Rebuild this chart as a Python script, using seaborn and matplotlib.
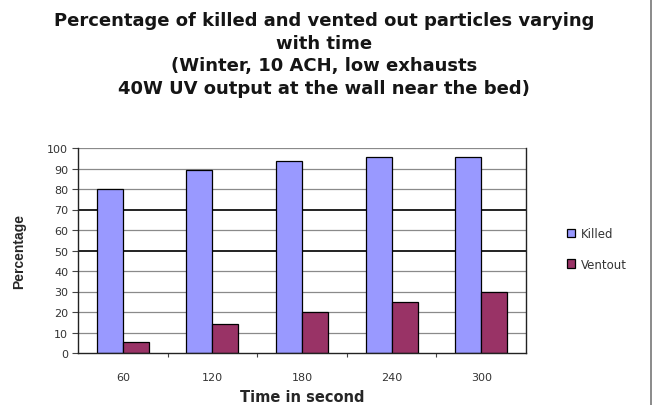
import matplotlib
matplotlib.use("Agg")
import matplotlib.pyplot as plt
from matplotlib.lines import Line2D
import seaborn as sns
import pandas as pd

times = ["60", "120", "180", "240", "300"]
killed = [80, 89.5, 93.5, 95.5, 95.5]
ventout = [5.5, 14, 20, 25, 30]
series_names = ["Killed", "Ventout"]
colors = ["#9999FF", "#993366"]

df = pd.DataFrame({
    "time": times * 2,
    "value": killed + ventout,
    "series": [series_names[0]] * len(times) + [series_names[1]] * len(times),
})

sns.set_style("white")
plt.rcParams["font.family"] = ["DejaVu Sans"]

fig = plt.figure(figsize=(6.54, 4.06), dpi=100)
ax = fig.add_axes([78 / 654, 1 - 354 / 406, (526 - 78) / 654, (354 - 149) / 406])

sns.barplot(data=df, x="time", y="value", hue="series", order=times,
            hue_order=series_names, palette=colors, saturation=1, width=0.58,
            gap=0, edgecolor="black", linewidth=0.9, ax=ax, legend=True)

ax.set_ylim(0, 100)
ax.set_yticks(range(0, 101, 10))
for v in range(10, 101, 10):
    dark = v in (50, 70)
    ax.axhline(v, color="#111111" if dark else "#8a8a8a",
               lw=1.3 if dark else 0.9, zorder=0)

for s in ["left", "bottom", "right"]:
    ax.spines[s].set_visible(True)
    ax.spines[s].set_color("#222222")
    ax.spines[s].set_linewidth(1.0)
ax.spines["top"].set_visible(False)

ax.set_xlim(-0.5, len(times) - 0.5)
ax.set_xticks([i + 0.5 for i in range(len(times) - 1)], minor=True)
ax.tick_params(axis="y", left=True, length=4, width=0.8, color="#444444",
               labelsize=8, labelcolor="#333333", pad=3)
ax.tick_params(axis="x", which="major", bottom=False, labelsize=8,
               labelcolor="#333333", pad=10)
ax.tick_params(axis="x", which="minor", bottom=True, length=3, width=0.8,
               color="#444444")

ax.set_xlabel("Time in second", fontsize=10.5, fontweight="bold", labelpad=5)
ax.set_ylabel("Percentage", fontsize=10, fontweight="bold", labelpad=15,
              family=["Liberation Sans", "DejaVu Sans"])

handles, labels = ax.get_legend_handles_labels()
ax.legend(handles, labels, loc="center left", bbox_to_anchor=(556 / 654, 1 - 250 / 406),
          bbox_transform=fig.transFigure, frameon=False, fontsize=8.5,
          handlelength=0.7, handleheight=0.7, handletextpad=0.5,
          labelspacing=1.45, labelcolor="#333333")

title = ("Percentage of killed and vented out particles varying\n"
         "with time\n"
         "(Winter, 10 ACH, low exhausts\n"
         "40W UV output at the wall near the bed)")
fig.text(324 / 654, 1 - 12 / 406, title, ha="center", va="top", fontsize=13,
         fontweight="bold", linespacing=1.33, color="#151515")

fig.add_artist(Line2D([651 / 654, 651 / 654], [0, 1], transform=fig.transFigure,
                      color="#777777", lw=1.2))

fig.savefig("out.png", dpi=100)
